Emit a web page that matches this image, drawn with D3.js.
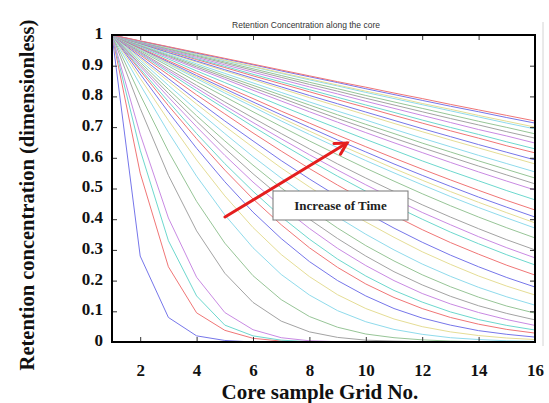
<!DOCTYPE html>
<html>
<head>
<meta charset="utf-8">
<script src="https://d3js.org/d3.v7.min.js"></script>
<style>
  body { margin: 0; background: #fff; }
  svg { display: block; }
</style>
</head>
<body>
<script>

  // grid number along the core (x) and axis ticks
  var gridNo = [1, 2, 3, 4, 5, 6, 7, 8, 9, 10, 11, 12, 13, 14, 15, 16];
  var xTicks = [2, 4, 6, 8, 10, 12, 14, 16];
  var yTicks = [0, 0.1, 0.2, 0.3, 0.4, 0.5, 0.6, 0.7, 0.8, 0.9, 1];

  // retention concentration at each grid point, one row per time step
  var earlyCurves = [
    [1,0.28,0.08,0.02,0.005,0,0,0,0,0,0,0,0,0,0,0],
    [1,0.55,0.245,0.095,0.038,0.012,0.003,0,0,0,0,0,0,0,0,0],
    [1,0.625,0.33,0.15,0.055,0.02,0.006,0.001,0,0,0,0,0,0,0,0],
    [1,0.677,0.404,0.211,0.096,0.04,0.014,0.004,0.001,0,0,0,0,0,0,0],
    [1,0.761,0.543,0.362,0.224,0.129,0.068,0.033,0.015,0.006,0.003,0.001,0,0,0,0],
    [1,0.805,0.621,0.458,0.322,0.216,0.138,0.083,0.048,0.026,0.014,0.007,0.003,0.001,0.001,0],
    [1,0.838,0.683,0.54,0.414,0.307,0.22,0.153,0.102,0.066,0.041,0.025,0.014,0.008,0.004,0.002],
    [1,0.859,0.722,0.593,0.476,0.373,0.285,0.213,0.154,0.109,0.075,0.05,0.033,0.021,0.013,0.008],
    [1,0.873,0.749,0.631,0.522,0.423,0.337,0.262,0.2,0.15,0.109,0.078,0.055,0.037,0.025,0.016],
    [1,0.884,0.77,0.662,0.56,0.466,0.382,0.307,0.243,0.189,0.145,0.109,0.08,0.058,0.041,0.029],
    [1,0.89,0.783,0.679,0.581,0.491,0.408,0.335,0.27,0.215,0.168,0.13,0.098,0.073,0.054,0.039],
    [1,0.898,0.798,0.701,0.608,0.521,0.442,0.37,0.305,0.249,0.2,0.158,0.124,0.096,0.073,0.054],
    [1,0.904,0.81,0.719,0.631,0.548,0.471,0.4,0.337,0.28,0.229,0.186,0.149,0.118,0.093,0.072],
    [1,0.911,0.823,0.737,0.655,0.576,0.502,0.434,0.371,0.314,0.264,0.219,0.18,0.146,0.117,0.094]
  ];
  var middleCurves = [
    [1,0.918,0.836,0.756,0.679,0.604,0.534,0.468,0.407,0.351,0.3,0.254,0.214,0.178,0.147,0.12],
    [1,0.924,0.849,0.775,0.703,0.634,0.567,0.505,0.446,0.391,0.341,0.294,0.253,0.215,0.182,0.153],
    [1,0.929,0.858,0.788,0.72,0.655,0.591,0.531,0.474,0.421,0.371,0.325,0.283,0.245,0.21,0.179],
    [1,0.935,0.87,0.805,0.743,0.681,0.622,0.565,0.511,0.46,0.412,0.366,0.324,0.286,0.25,0.218],
    [1,0.939,0.878,0.818,0.76,0.702,0.646,0.592,0.54,0.491,0.444,0.4,0.358,0.32,0.284,0.251],
    [1,0.942,0.884,0.827,0.77,0.715,0.662,0.61,0.56,0.512,0.466,0.422,0.382,0.343,0.307,0.274],
    [1,0.945,0.89,0.836,0.782,0.73,0.679,0.629,0.58,0.534,0.49,0.447,0.407,0.369,0.333,0.3],
    [1,0.949,0.899,0.848,0.799,0.75,0.702,0.655,0.61,0.566,0.524,0.483,0.444,0.407,0.372,0.339],
    [1,0.952,0.905,0.858,0.811,0.766,0.72,0.676,0.633,0.591,0.551,0.512,0.474,0.438,0.404,0.371],
    [1,0.954,0.908,0.863,0.818,0.774,0.73,0.687,0.645,0.605,0.565,0.527,0.49,0.455,0.421,0.388],
    [1,0.956,0.912,0.868,0.825,0.782,0.74,0.699,0.658,0.619,0.58,0.543,0.507,0.472,0.439,0.407],
    [1,0.958,0.916,0.875,0.833,0.793,0.752,0.713,0.674,0.636,0.599,0.563,0.528,0.494,0.461,0.43],
    [1,0.961,0.922,0.883,0.845,0.807,0.769,0.732,0.696,0.66,0.625,0.59,0.557,0.525,0.493,0.463],
    [1,0.964,0.927,0.891,0.856,0.82,0.785,0.75,0.716,0.682,0.649,0.617,0.585,0.554,0.524,0.495]
  ];
  var lateCurves = [
    [1,0.965,0.931,0.896,0.862,0.828,0.795,0.761,0.728,0.696,0.664,0.633,0.603,0.573,0.544,0.515],
    [1,0.967,0.934,0.901,0.868,0.836,0.804,0.772,0.74,0.709,0.679,0.648,0.619,0.59,0.562,0.534],
    [1,0.969,0.937,0.906,0.875,0.844,0.813,0.782,0.752,0.723,0.693,0.664,0.636,0.608,0.581,0.554],
    [1,0.971,0.941,0.912,0.883,0.854,0.825,0.796,0.768,0.74,0.712,0.685,0.658,0.632,0.606,0.58],
    [1,0.972,0.943,0.915,0.887,0.859,0.831,0.803,0.776,0.749,0.722,0.695,0.669,0.643,0.618,0.593],
    [1,0.973,0.947,0.92,0.894,0.867,0.841,0.815,0.789,0.764,0.738,0.713,0.688,0.664,0.639,0.616],
    [1,0.974,0.949,0.923,0.898,0.872,0.847,0.822,0.797,0.772,0.748,0.723,0.699,0.676,0.652,0.629],
    [1,0.976,0.951,0.927,0.903,0.879,0.855,0.831,0.808,0.784,0.761,0.738,0.715,0.692,0.671,0.648],
    [1,0.977,0.954,0.931,0.908,0.885,0.862,0.839,0.817,0.794,0.772,0.75,0.728,0.707,0.685,0.664],
    [1,0.978,0.956,0.934,0.912,0.89,0.868,0.846,0.825,0.803,0.782,0.761,0.74,0.719,0.699,0.678],
    [1,0.979,0.958,0.937,0.916,0.896,0.875,0.854,0.834,0.813,0.793,0.773,0.753,0.733,0.713,0.694],
    [1,0.98,0.959,0.939,0.918,0.898,0.877,0.857,0.837,0.817,0.798,0.777,0.758,0.738,0.719,0.7],
    [1,0.98,0.961,0.941,0.922,0.903,0.883,0.864,0.845,0.825,0.806,0.787,0.768,0.75,0.731,0.713],
    [1,0.981,0.962,0.943,0.924,0.905,0.886,0.867,0.848,0.83,0.811,0.793,0.774,0.756,0.738,0.72]
  ];

  var lineColors = ["#7676ea", "#f07676", "#6dd8ce", "#c98ae3", "#a3a3a3", "#97c597", "#8fdbec", "#e5dd95"];

  var config = {
    canvas: {width: 549, height: 403},
    plot: {left: 112, right: 535, top: 35, bottom: 342}
  };

  var curves = earlyCurves.concat(middleCurves, lateCurves);

  var svg = d3.select("body").append("svg")
    .attr("width", config.canvas.width)
    .attr("height", config.canvas.height);

  var x = d3.scaleLinear().domain([1, 16]).range([config.plot.left, config.plot.right]);
  var y = d3.scaleLinear().domain([0, 1]).range([config.plot.bottom, config.plot.top]);

  var serif = "'Liberation Serif', 'Times New Roman', serif";

  // figure edge on the right
  svg.append("line")
    .attr("x1", 543).attr("x2", 543).attr("y1", 22).attr("y2", 346)
    .attr("stroke", "#d4d4d4").attr("stroke-width", 1);

  // curves
  var line = d3.line()
    .x(function(d, i) { return x(gridNo[i]); })
    .y(function(d) { return y(d); });

  svg.append("g")
    .selectAll("path")
    .data(curves)
    .enter().append("path")
    .attr("d", line)
    .attr("fill", "none")
    .attr("stroke", function(d, i) { return lineColors[i % lineColors.length]; })
    .attr("stroke-width", 1);

  // inward ticks on all four sides
  function tickAxis(axis, tx, ty) {
    var g = svg.append("g").attr("transform", "translate(" + tx + "," + ty + ")").call(axis);
    g.select(".domain").remove();
    g.selectAll("text").remove();
    g.selectAll("line").attr("stroke", "#333");
  }
  tickAxis(d3.axisBottom(x).tickValues(xTicks).tickSizeInner(-5).tickSizeOuter(0), 0, config.plot.bottom);
  tickAxis(d3.axisTop(x).tickValues(xTicks).tickSizeInner(-5).tickSizeOuter(0), 0, config.plot.top);
  tickAxis(d3.axisLeft(y).tickValues(yTicks).tickSizeInner(-5).tickSizeOuter(0), config.plot.left, 0);
  tickAxis(d3.axisRight(y).tickValues(yTicks).tickSizeInner(-5).tickSizeOuter(0), config.plot.right, 0);

  // tick labels
  var xLab = svg.append("g")
    .attr("transform", "translate(0," + config.plot.bottom + ")")
    .call(d3.axisBottom(x).tickValues(xTicks).tickSize(0).tickPadding(22));
  xLab.select(".domain").remove();
  xLab.selectAll("text")
    .attr("font-family", serif).attr("font-weight", "bold")
    .attr("font-size", "17px").attr("fill", "#111");

  var yLab = svg.append("g")
    .attr("transform", "translate(" + config.plot.left + ",-2)")
    .call(d3.axisLeft(y).tickValues(yTicks).tickSize(0).tickPadding(9)
      .tickFormat(function(d) { return (d === 0 || d === 1) ? d3.format("d")(d) : d3.format(".1f")(d); }));
  yLab.select(".domain").remove();
  yLab.selectAll("text")
    .attr("font-family", serif).attr("font-weight", "bold")
    .attr("font-size", "17px").attr("fill", "#111");

  // frame
  svg.append("rect")
    .attr("x", config.plot.left).attr("y", config.plot.top)
    .attr("width", config.plot.right - config.plot.left)
    .attr("height", config.plot.bottom - config.plot.top)
    .attr("fill", "none").attr("stroke", "#000").attr("stroke-width", 2);

  // titles
  svg.append("text")
    .attr("x", 306).attr("y", 28)
    .attr("text-anchor", "middle")
    .attr("font-family", "'Liberation Sans', Arial, sans-serif")
    .attr("font-size", "8.5px").attr("fill", "#333")
    .text("Retention Concentration along the core");

  svg.append("text")
    .attr("x", 320).attr("y", 399)
    .attr("text-anchor", "middle")
    .attr("font-family", serif).attr("font-weight", "bold")
    .attr("font-size", "21px").attr("fill", "#111")
    .text("Core sample Grid No.");

  svg.append("text")
    .attr("transform", "translate(34,195) rotate(-90)")
    .attr("text-anchor", "middle")
    .attr("font-family", serif).attr("font-weight", "bold")
    .attr("font-size", "20.5px").attr("fill", "#111")
    .text("Retention concentration (dimensionless)");

  // annotation: arrow and label box
  var a0 = [225, 217], a1 = [347, 143];
  var ang = Math.atan2(a1[1] - a0[1], a1[0] - a0[0]), hl = 13;
  svg.append("line")
    .attr("x1", a0[0]).attr("y1", a0[1]).attr("x2", a1[0]).attr("y2", a1[1])
    .attr("stroke", "#e41e1e").attr("stroke-width", 3).attr("stroke-linecap", "round");
  svg.append("path")
    .attr("d", "M" + (a1[0] - hl * Math.cos(ang - 0.5)) + "," + (a1[1] - hl * Math.sin(ang - 0.5)) +
      "L" + a1[0] + "," + a1[1] +
      "L" + (a1[0] - hl * Math.cos(ang + 0.5)) + "," + (a1[1] - hl * Math.sin(ang + 0.5)))
    .attr("fill", "none").attr("stroke", "#e41e1e").attr("stroke-width", 3)
    .attr("stroke-linejoin", "miter").attr("stroke-linecap", "round");

  svg.append("rect")
    .attr("x", 273).attr("y", 191).attr("width", 135).attr("height", 29)
    .attr("fill", "#fff").attr("stroke", "#777").attr("stroke-width", 1);
  svg.append("text")
    .attr("x", 340.5).attr("y", 210)
    .attr("text-anchor", "middle")
    .attr("font-family", serif).attr("font-weight", "bold")
    .attr("font-size", "13px").attr("fill", "#222")
    .text("Increase of Time");

</script>
</body>
</html>
